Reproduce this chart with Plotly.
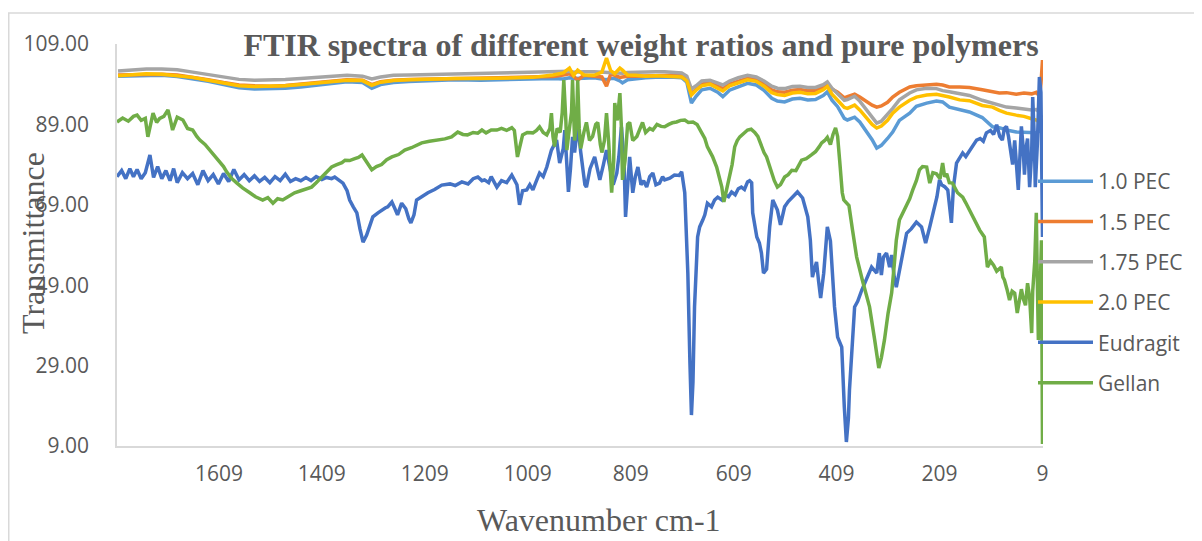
import plotly.graph_objects as go

# ---------------- data ----------------
x_ticks = [1609, 1409, 1209, 1009, 809, 609, 409, 209, 9]
y_ticks = [9, 29, 49, 69, 89, 109]
y_tick_labels = ["9.00", "29.00", "49.00", "69.00", "89.00", "109.00"]

wn_pec = [1805, 1780, 1750, 1720, 1690, 1660, 1630, 1600, 1570, 1540,
          1510, 1480, 1450, 1420, 1390, 1360, 1330, 1312, 1295, 1270,
          1240, 1200, 1150, 1100, 1050, 1000, 960, 940, 928, 920,
          912, 900, 880, 865, 856, 848, 840, 830, 825, 815,
          800, 780, 760, 743, 725, 710, 700, 691, 682, 671,
          655, 640, 630, 617, 600, 582, 565, 550, 535, 524,
          510, 495, 480, 465, 450, 435, 427, 418, 407, 394,
          388, 374, 364, 350, 340, 331, 322, 310, 300, 287,
          267, 254, 234, 215, 203, 190, 170, 151, 126, 106,
          93, 79, 60, 45, 30, 21, 15, 12, 9]

pec_10 = [101.0, 101.1, 101.2, 101.2, 100.9, 100.4, 99.7, 98.9, 98.1, 97.8,
          97.8, 98.0, 98.3, 98.8, 99.2, 99.6, 99.4, 98.0, 98.9, 99.4,
          99.7, 99.9, 100.1, 100.0, 100.2, 100.3, 100.4, 100.3, 100.6, 100.4,
          100.5, 100.5, 100.6, 100.3, 100.1, 100.4, 100.4, 99.8, 99.3, 100.1,
          100.4, 100.6, 100.7, 100.8, 100.7, 100.6, 99.5, 94.3, 96.0, 97.6,
          98.0, 97.0, 95.9, 97.5, 98.4, 99.2, 98.8, 97.5, 95.5, 94.8,
          94.6, 95.3, 95.5, 95.1, 95.2, 96.2, 97.1, 95.0, 93.4, 90.5,
          90.1, 90.8, 89.6, 87.0, 85.2, 83.1, 83.8, 85.5, 87.1, 90.0,
          91.8, 93.5, 94.3, 94.8, 94.6, 93.3, 92.6, 92.1, 90.7, 88.4,
          88.2, 87.6, 87.1, 87.0, 86.9, 86.9, 87.3, 88.0, 88.5]

pec_15 = [101.3, 101.4, 101.5, 101.5, 101.3, 100.8, 100.1, 99.4, 98.8, 98.6,
          98.5, 98.7, 99.0, 99.4, 99.8, 100.1, 100.0, 98.9, 99.6, 100.0,
          100.2, 100.3, 100.5, 100.5, 100.6, 100.8, 100.9, 101.3, 101.6, 101.0,
          100.0, 101.2, 101.0, 100.8, 98.5, 101.5, 101.2, 100.7, 100.8, 101.0,
          101.0, 101.1, 101.2, 101.3, 101.2, 101.1, 100.3, 96.6, 97.8, 99.0,
          99.4, 98.6, 97.9, 99.0, 99.8, 100.5, 100.2, 99.1, 97.6, 97.1,
          97.0, 97.5, 97.7, 97.4, 97.5, 98.3, 99.2, 97.8, 97.0, 95.6,
          95.9, 96.5, 95.8, 94.5, 93.8, 93.3, 93.6, 94.5, 95.8, 97.0,
          98.3, 98.6, 98.8, 99.0, 98.8, 98.3, 98.3, 98.2, 97.6, 97.1,
          96.8, 96.9, 96.5, 96.8, 96.6, 97.0, 96.0, 99.0, 105.0]

pec_175 = [102.3, 102.5, 102.8, 102.8, 102.6, 102.0, 101.4, 100.7, 100.2, 100.0,
           100.0, 100.2, 100.4, 100.6, 100.9, 101.2, 101.0, 100.3, 100.8, 101.2,
           101.3, 101.4, 101.6, 101.6, 101.8, 101.9, 102.0, 102.1, 102.2, 102.0,
           102.1, 102.1, 102.1, 102.0, 101.9, 102.0, 102.0, 101.8, 101.7, 101.9,
           102.0, 102.1, 102.1, 102.1, 102.0, 101.8, 101.0, 97.8, 98.6, 99.8,
           100.0, 99.4, 98.8, 99.8, 100.6, 101.2, 100.8, 99.8, 98.5, 98.0,
           97.9, 98.4, 98.5, 98.2, 98.2, 98.9, 99.6, 98.0, 96.6, 95.0,
           95.2, 96.0, 94.8, 92.5, 90.8, 89.3, 89.8, 91.5, 93.0, 95.1,
           96.8, 97.6, 98.0, 97.9, 97.4, 97.1, 96.6, 96.2, 95.0, 94.3,
           93.8, 93.3, 93.1, 92.8, 92.6, 92.7, 92.0, 91.0, 90.8]

pec_20 = [101.1, 101.3, 101.6, 101.5, 101.2, 100.7, 100.0, 99.2, 98.6, 98.4,
          98.4, 98.6, 98.9, 99.3, 99.7, 100.0, 99.9, 98.7, 99.5, 99.9,
          100.1, 100.3, 100.4, 100.4, 100.5, 100.7, 101.3, 101.8, 103.0, 101.2,
          102.5, 101.3, 101.2, 102.0, 105.5, 102.4, 101.6, 103.0, 102.5, 101.3,
          101.2, 101.0, 101.1, 101.0, 100.9, 100.8, 99.8, 96.3, 97.5, 98.6,
          99.0, 98.0, 97.3, 98.6, 99.4, 100.1, 99.7, 98.5, 96.9, 96.4,
          96.2, 96.8, 97.0, 96.6, 96.7, 97.6, 98.4, 96.5, 95.0, 93.2,
          93.0, 93.8, 92.6, 90.5, 89.0, 88.1, 88.6, 90.0, 91.8, 93.3,
          95.0, 95.8, 96.3, 96.5, 96.2, 95.8, 95.1, 94.9, 93.7, 93.3,
          92.5, 91.8, 91.3, 91.0, 90.4, 90.1, 89.5, 88.8, 88.4]

wn_eud = [1807, 1798, 1790, 1782, 1775, 1768, 1760, 1752, 1743, 1736,
          1728, 1720, 1712, 1704, 1697, 1690, 1680, 1670, 1660, 1650,
          1640, 1630, 1620, 1610, 1600, 1590, 1580, 1570, 1560, 1550,
          1540, 1530, 1520, 1510, 1500, 1490, 1480, 1470, 1460, 1450,
          1440, 1430, 1420, 1409, 1400, 1390, 1384, 1375, 1368, 1360,
          1355, 1348, 1341, 1335, 1329, 1322, 1316, 1310, 1300, 1293,
          1286, 1281, 1273, 1267, 1262, 1254, 1246, 1240, 1236, 1230,
          1225, 1215, 1203, 1190, 1176, 1160, 1150, 1137, 1125, 1115,
          1106, 1098, 1093, 1085, 1080, 1069, 1060, 1050, 1040, 1030,
          1025, 1019, 1011, 1005, 999, 992, 986, 979, 972, 963,
          953, 947, 940, 937, 933, 930, 926, 922, 918, 912,
          906, 902, 898, 895, 888, 879, 873, 869, 862, 856,
          849, 843, 836, 832, 827, 822, 819, 815, 811, 805,
          800, 795, 789, 784, 778, 772, 766, 760, 753, 747,
          743, 733, 724, 715, 710, 704, 698, 694, 691, 688,
          685, 679, 675, 669, 665, 660, 652, 646, 640, 632,
          626, 619, 613, 606, 600, 594, 588, 582, 578, 574,
          572, 564, 559, 555, 551, 545, 539, 533, 524, 518,
          510, 503, 495, 485, 475, 465, 460, 456, 452, 448,
          444, 440, 434, 427, 421, 413, 407, 399, 394, 390,
          386, 384, 374, 368, 360, 350, 341, 331, 326, 322,
          318, 312, 306, 302, 297, 293, 288, 283, 278, 273,
          264, 254, 244, 236, 228, 219, 214, 209, 205, 199,
          193, 186, 182, 176, 170, 164, 158, 151, 144, 137,
          130, 124, 118, 110, 104, 98, 92, 87, 83, 79,
          75, 71, 67, 63, 60, 56, 50, 47, 44, 41,
          38, 34, 30, 28, 25, 23, 19, 15, 12, 10, 9]

eudragit = [76.0, 77.5, 75.5, 78.0, 76.0, 77.8, 75.5, 77.0, 81.4, 75.8,
            78.5, 75.5, 77.5, 75.0, 78.0, 74.5, 77.0, 75.5, 76.8, 74.0,
            77.5, 75.0, 76.5, 74.2, 76.8, 74.8, 77.8, 75.2, 76.5, 75.0,
            76.2, 74.8, 75.8, 74.5, 76.0, 75.0, 76.6, 74.8, 75.5, 75.0,
            75.8, 75.0, 76.0, 75.3, 75.8, 75.5, 75.9, 75.2, 74.4, 72.5,
            70.2, 68.5, 67.0, 63.0, 59.7, 61.5, 64.0, 66.0, 67.0, 67.7,
            68.2, 68.5, 69.7, 68.0, 66.5, 69.4, 68.0, 65.5, 64.5, 66.5,
            70.2, 71.0, 72.0, 72.8, 73.9, 74.2, 73.8, 74.7, 74.2, 75.5,
            75.9, 75.0, 75.2, 74.5, 76.0, 73.4, 75.0, 74.5, 76.4, 74.0,
            69.0, 72.5, 72.7, 74.0, 72.7, 75.0, 76.9, 76.0, 78.4, 82.6,
            85.1, 79.4, 83.0, 87.6, 80.0, 72.2, 78.0, 85.9, 82.0, 88.9,
            82.0, 78.4, 74.0, 73.4, 78.0, 80.9, 77.0, 75.2, 79.0, 82.6,
            78.0, 74.0, 76.9, 81.0, 88.4, 80.0, 66.0, 75.0, 80.9, 72.0,
            76.0, 78.4, 74.0, 75.0, 73.4, 76.0, 76.9, 74.0, 74.4, 76.0,
            75.2, 75.6, 76.4, 76.3, 77.2, 72.0, 52.0, 30.0, 16.7, 25.0,
            43.6, 61.0, 63.5, 65.2, 66.5, 69.4, 68.5, 70.2, 70.9, 70.2,
            71.5, 71.0, 72.2, 71.5, 73.0, 73.4, 72.8, 74.7, 75.0, 74.5,
            67.0, 61.0, 59.5, 57.0, 52.0, 53.0, 63.5, 70.2, 67.7, 64.0,
            68.5, 69.8, 70.9, 72.2, 70.7, 66.0, 60.2, 51.0, 53.0, 54.8,
            50.0, 45.8, 52.0, 63.5, 60.0, 43.6, 36.1, 33.6, 18.7, 10.0,
            16.0, 22.9, 43.6, 45.0, 47.8, 51.0, 53.5, 52.0, 57.0, 51.5,
            56.0, 57.0, 53.5, 56.5, 51.0, 48.5, 52.0, 54.5, 58.0, 61.9,
            63.0, 64.7, 63.5, 59.5, 63.5, 68.5, 71.0, 75.2, 74.0, 73.5,
            72.7, 64.5, 73.4, 79.4, 80.5, 81.9, 81.0, 82.5, 84.0, 85.1,
            85.5, 84.8, 86.9, 87.5, 86.5, 88.9, 86.0, 85.1, 88.0, 88.5,
            86.0, 82.0, 79.0, 85.0, 80.0, 72.7, 88.5, 84.0, 76.5, 83.0,
            85.5, 73.4, 82.0, 95.8, 86.0, 73.4, 84.0, 100.8, 97.0, 75.0, 61.0]

wn_gel = [1807, 1796, 1785, 1775, 1768, 1760, 1752, 1747, 1740, 1737,
          1730, 1724, 1716, 1708, 1703, 1699, 1690, 1679, 1670, 1660,
          1652, 1646, 1636, 1627, 1617, 1607, 1600, 1594, 1584, 1574,
          1563, 1549, 1538, 1524, 1514, 1504, 1495, 1485, 1475, 1462,
          1450, 1440, 1429, 1420, 1409, 1400, 1390, 1380, 1370, 1364,
          1355, 1345, 1338, 1331, 1322, 1312, 1303, 1293, 1283, 1273,
          1260, 1248, 1235, 1225, 1215, 1200, 1184, 1170, 1157, 1145,
          1135, 1126, 1115, 1106, 1098, 1090, 1080, 1069, 1060, 1050,
          1040, 1035, 1029, 1023, 1019, 1010, 999, 992, 986, 979,
          972, 966, 963, 960, 957, 952, 946, 942, 939, 935,
          933, 930, 928, 924, 922, 920, 918, 914, 912, 909,
          906, 900, 895, 889, 883, 877, 873, 868, 865, 860,
          856, 852, 846, 842, 840, 835, 830, 827, 825, 820,
          815, 811, 805, 797, 792, 786, 780, 772, 766, 758,
          750, 743, 735, 728, 720, 712, 704, 697, 688, 680,
          671, 665, 660, 650, 642, 636, 632, 628, 624, 617,
          612, 607, 602, 597, 590, 582, 575, 568, 562, 555,
          550, 545, 540, 535, 530, 524, 518, 510, 503, 496,
          488, 477, 468, 458, 450, 443, 438, 432, 427, 421,
          416, 411, 407, 403, 398, 395, 390, 385, 378, 370,
          359, 345, 335, 331, 327, 322, 316, 309, 302, 297,
          293, 287, 280, 273, 267, 261, 254, 248, 242, 234,
          228, 222, 215, 208, 203, 199, 195, 190, 184, 174,
          164, 158, 151, 141, 131, 122, 116, 110, 104, 98,
          92, 89, 86, 83, 78, 73, 68, 63, 58, 53,
          50, 46, 42, 38, 34, 30, 28, 24, 21, 19, 17, 14, 11, 9]

gellan = [89.6, 90.6, 89.8, 91.0, 91.3, 90.0, 90.5, 85.9, 90.0, 91.8,
          89.5, 90.5, 91.0, 92.6, 90.0, 87.6, 90.8, 90.1, 88.0, 87.6,
          86.0, 85.1, 84.0, 82.6, 81.0, 79.6, 78.5, 77.2, 75.5, 74.4,
          73.2, 72.0, 71.0, 70.2, 70.8, 69.4, 70.5, 70.2, 71.0, 72.0,
          72.5, 73.0, 73.4, 74.5, 75.9, 77.0, 78.4, 79.0, 79.5, 80.1,
          80.0, 80.5, 80.8, 81.4, 79.5, 77.7, 78.5, 79.0, 80.2, 80.9,
          81.5, 82.6, 83.2, 83.8, 84.4, 84.8, 85.1, 85.4, 85.9, 87.1,
          86.5, 86.4, 87.0, 86.8, 87.6, 86.9, 87.6, 87.6, 88.0, 87.5,
          88.2, 87.5, 80.9, 84.0, 86.4, 87.0, 86.9, 87.5, 88.4, 87.0,
          86.4, 88.0, 91.8, 86.0, 83.5, 88.0, 87.0, 92.0, 100.0, 90.0,
          82.6, 86.0, 88.5, 92.0, 100.0, 90.0, 85.0, 90.0, 100.0, 88.0,
          83.0, 87.0, 89.5, 85.0, 86.0, 89.0, 89.5, 84.0, 82.0, 85.0,
          91.8, 85.0, 72.0, 80.0, 94.3, 90.0, 96.8, 88.0, 75.2, 80.0,
          89.0, 89.5, 85.0, 86.0, 87.5, 89.5, 87.0, 88.0, 87.6, 89.0,
          88.5, 88.4, 89.0, 89.4, 89.6, 90.0, 90.1, 89.5, 89.6, 89.0,
          86.9, 85.5, 83.4, 81.0, 78.4, 75.5, 73.4, 69.7, 72.0, 75.2,
          79.0, 83.4, 85.0, 85.9, 86.8, 87.6, 87.8, 87.0, 86.0, 83.4,
          82.0, 80.9, 79.0, 76.9, 75.0, 73.4, 74.0, 75.9, 76.5, 77.6,
          77.5, 80.1, 80.5, 81.4, 82.2, 83.4, 84.4, 85.0, 85.8, 84.0,
          86.5, 88.1, 86.0, 80.0, 72.0, 70.2, 69.5, 68.8, 62.7, 56.0,
          50.3, 43.6, 35.4, 31.0, 28.4, 31.0, 35.4, 42.0, 47.1, 54.0,
          60.2, 65.2, 67.0, 68.5, 70.5, 72.7, 75.0, 77.7, 78.5, 78.4,
          74.4, 77.0, 76.7, 75.5, 79.4, 76.0, 76.7, 74.5, 74.4, 72.0,
          70.9, 69.5, 67.7, 65.5, 62.7, 61.0, 53.5, 55.0, 54.0, 52.5,
          53.0, 53.5, 51.0, 50.3, 48.0, 45.3, 47.5, 47.0, 42.1, 46.5,
          48.0, 45.5, 44.0, 49.5, 46.0, 37.1, 47.5, 55.0, 67.0, 50.0, 35.4, 45.0, 60.2, 9.5]

series = [
    ("1.0 PEC", wn_pec, pec_10, "#5B9BD5"),
    ("1.5 PEC", wn_pec, pec_15, "#ED7D31"),
    ("1.75 PEC", wn_pec, pec_175, "#A5A5A5"),
    ("2.0 PEC", wn_pec, pec_20, "#FFC000"),
    ("Eudragit", wn_eud, eudragit, "#4472C4"),
    ("Gellan", wn_gel, gellan, "#70AD47"),
]
for name, xs, ys, _ in series:
    assert len(xs) == len(ys), (name, len(xs), len(ys))

# ---------------- figure ----------------
fig = go.Figure()
for i, (name, xs, ys, col) in enumerate(series):
    fig.add_trace(go.Scatter(
        x=xs, y=ys, mode="lines", name=name, legendgroup=f"g{i}",
        line=dict(color=col, width=3.5), hoverinfo="skip"))

# the page body adds an 8px offset, so the figure is laid out 8px up/left
OFF = 8
W, H = 1202 - OFF, 541 - OFF
L, R, T, B = 117 - OFF, 1043 - OFF, 44 - OFF, 446 - OFF
PW, PH = R - L, B - T
grey_txt = "#595959"


def px_x(v):
    return (v - OFF - L) / PW


def px_y(v):
    return (B - (v - OFF)) / PH


fig.update_layout(
    width=W, height=H,
    margin=dict(l=L, r=W - R, t=T, b=H - B, pad=0),
    paper_bgcolor="white", plot_bgcolor="white",
    title=dict(text="FTIR spectra of different weight ratios and pure polymers",
               x=(641 - OFF) / W, xref="container", xanchor="center",
               y=1 - (45 - OFF) / H, yref="container", yanchor="middle",
               font=dict(family="Liberation Serif", size=32, color=grey_txt, weight="bold")),
    xaxis=dict(range=[1807, 8], tickvals=x_ticks, ticktext=[str(v) for v in x_ticks],
               showgrid=False, zeroline=False, showline=True, linecolor="#D9D9D9", linewidth=1.5,
               ticks="", ticklabelstandoff=8,
               tickfont=dict(family="Open Sans", size=21, color=grey_txt)),
    yaxis=dict(range=[9, 109], tickvals=y_ticks, ticktext=y_tick_labels,
               showgrid=False, zeroline=False, showline=True, linecolor="#D9D9D9", linewidth=1.5,
               ticks="", ticklabelstandoff=22,
               tickfont=dict(family="Open Sans", size=21, color=grey_txt)),
    showlegend=True,
    legend=dict(x=px_x(1033), xanchor="left", y=px_y(161), yanchor="top",
                font=dict(family="Open Sans", size=21, color=grey_txt),
                traceorder="grouped", tracegroupgap=10, itemwidth=55,
                bgcolor="rgba(0,0,0,0)", borderwidth=0),
    annotations=[
        dict(text="Wavenumber cm-1", x=px_x(599), y=px_y(520),
             xref="paper", yref="paper", xanchor="center", yanchor="middle", showarrow=False,
             font=dict(family="Liberation Serif", size=32, color=grey_txt)),
        dict(text="Transmittance", x=px_x(33), y=px_y(243), textangle=-90,
             xref="paper", yref="paper", xanchor="center", yanchor="middle", showarrow=False,
             font=dict(family="Liberation Serif", size=32, color=grey_txt)),
    ],
    shapes=[dict(type="rect", xref="paper", yref="paper",
                 x0=px_x(8.75), x1=px_x(1260), y0=px_y(600), y1=px_y(13),
                 line=dict(color="#D9D9D9", width=1.5), fillcolor="rgba(0,0,0,0)", layer="below")],
)

fig.write_html("out.html")
